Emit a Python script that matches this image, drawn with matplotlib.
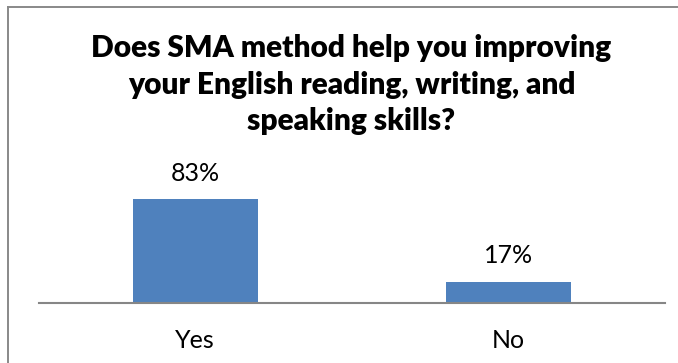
import matplotlib
matplotlib.use("Agg")
import matplotlib.pyplot as plt
from matplotlib.lines import Line2D

categories = ["Yes", "No"]
values = [83, 17]
value_labels = ["83%", "17%"]
title_lines = [
    "Does SMA method help you improving",
    "your English reading, writing, and",
    "speaking skills?",
]

W, H, DPI = 678, 363, 100
plt.rcParams["font.family"] = ["Lato", "DejaVu Sans"]

fig = plt.figure(figsize=(W / DPI, H / DPI), dpi=DPI)
fig.patch.set_facecolor("white")

# chart border: left and top edges (the rest runs off the canvas)
bx, by = 8.3 / W, 1 - 7.3 / H
for xs, ys in [([bx, bx], [0, by]), ([bx, 1.0], [by, by])]:
    fig.add_artist(Line2D(xs, ys, transform=fig.transFigure,
                          color="#898989", linewidth=1.4, zorder=0))

ax = fig.add_axes([38.8 / W, 60.3 / H, (664.5 - 38.8) / W, 112.1 / H])
x = list(range(len(categories)))
ax.bar(x, values, width=0.4, color="#4F81BD", zorder=2)
ax.set_xlim(-0.5, len(categories) - 0.5)
ax.set_ylim(0, 90)

for s in ["left", "right", "top"]:
    ax.spines[s].set_visible(False)
ax.spines["bottom"].set_color("#868686")
ax.spines["bottom"].set_linewidth(1.5)
ax.set_yticks([])
ax.set_xticks(x)
ax.set_xticklabels(categories, fontsize=18, color="#000000")
ax.tick_params(axis="x", length=0, pad=19)

for xi, v, lab in zip(x, values, value_labels):
    ax.annotate(lab, (xi, v), xytext=(0, 13.5), textcoords="offset points",
                ha="center", va="baseline", fontsize=18, color="#000000")

# title lines, placed by baseline
baselines = [57.3, 93.8, 130.3]
for line, yb in zip(title_lines, baselines):
    fig.text(351.4 / W, 1 - yb / H, line, ha="center", va="baseline",
             fontsize=21.5, fontweight="heavy", color="#000000")

fig.savefig("out.png", dpi=DPI, facecolor="white")
